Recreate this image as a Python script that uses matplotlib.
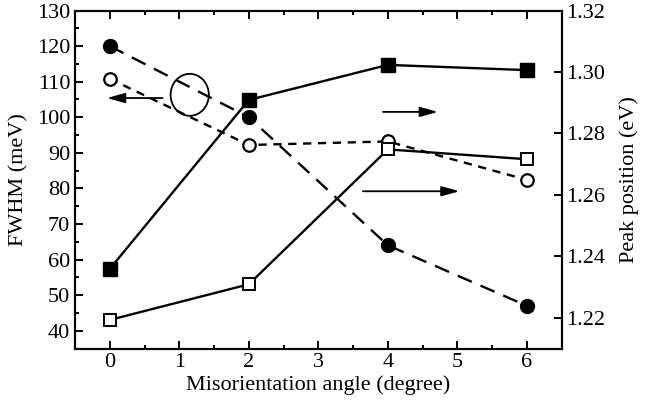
import matplotlib
matplotlib.use('Agg')
import matplotlib.pyplot as plt
from matplotlib.patches import Ellipse
from matplotlib.ticker import MultipleLocator

plt.rcParams['font.family'] = ['Liberation Serif', 'DejaVu Serif']

angle = [0, 2, 4, 6]
# FWHM (left axis)
fwhm_filled = [120, 100, 64, 47]
fwhm_open = [110.8, 92.2, 93.2, 82.4]
# peak position (right axis)
peak_filled = [1.2359, 1.2909, 1.3023, 1.3006]
peak_open = [1.2193, 1.2309, 1.2748, 1.2716]

fig = plt.figure(figsize=(6.46, 4.01), dpi=100)
ax = fig.add_axes([0.1161, 0.1309, 0.7534, 0.8429])
ax2 = ax.twinx()

ax.plot(angle, fwhm_filled, color='black', lw=1.7, dashes=(6.5, 4), marker='o',
        ms=10, mfc='black', mec='black', zorder=3)
ax.plot(angle, fwhm_open, color='black', lw=1.7, dashes=(3.5, 2.8), marker='o',
        ms=9, mfc='white', mec='black', mew=1.6, zorder=3)
ax2.plot(angle, peak_filled, color='black', lw=1.7, marker='s',
         ms=9.5, mfc='black', mec='black', zorder=3)
ax2.plot(angle, peak_open, color='black', lw=1.7, marker='s',
         ms=9, mfc='white', mec='black', mew=1.4, zorder=3)

ax.set_xlim(-0.5, 6.5)
ax.set_ylim(35, 130)
ax2.set_ylim(1.21, 1.32)

ax.xaxis.set_major_locator(MultipleLocator(1))
ax.xaxis.set_minor_locator(MultipleLocator(0.5))
ax.yaxis.set_major_locator(MultipleLocator(10))
ax.yaxis.set_minor_locator(MultipleLocator(5))
ax2.set_yticks([1.22, 1.24, 1.26, 1.28, 1.30, 1.32])
ax2.set_yticklabels(['1.22', '1.24', '1.26', '1.28', '1.30', '1.32'])

ax.tick_params(axis='x', which='both', direction='in', top=True, labelsize=16, width=1.4)
ax.tick_params(axis='x', which='major', length=6)
ax.tick_params(axis='x', which='minor', length=3)
ax.tick_params(axis='y', which='both', direction='in', right=False, labelsize=16, width=1.4)
ax.tick_params(axis='y', which='major', length=6)
ax.tick_params(axis='y', which='minor', length=3)
ax2.tick_params(axis='y', which='major', direction='in', length=6, width=1.4, labelsize=16)

for a in (ax, ax2):
    for s in a.spines.values():
        s.set_linewidth(1.5)

ax.set_xlabel('Misorientation angle (degree)', fontsize=16, labelpad=2)
ax.set_ylabel('FWHM (meV)', fontsize=16, labelpad=6)
ax2.set_ylabel('Peak position (eV)', fontsize=16, labelpad=10)

# annotations: circle with arrow to the left axis, arrows to the right axis
arrow = dict(arrowstyle='-|>,head_width=0.25,head_length=0.9', color='black',
             lw=1.3, mutation_scale=12, shrinkA=0, shrinkB=0)
ax.add_patch(Ellipse((1.15, 106.3), 0.55, 11.8, fill=False, lw=1.3, color='black', zorder=4))
ax.annotate('', xy=(-0.04, 105.4), xytext=(0.76, 105.4), arrowprops=arrow)
ax.annotate('', xy=(4.72, 101.5), xytext=(3.93, 101.5), arrowprops=arrow)
ax.annotate('', xy=(5.03, 79.2), xytext=(3.64, 79.2), arrowprops=arrow)

fig.savefig('out.png', dpi=100)
